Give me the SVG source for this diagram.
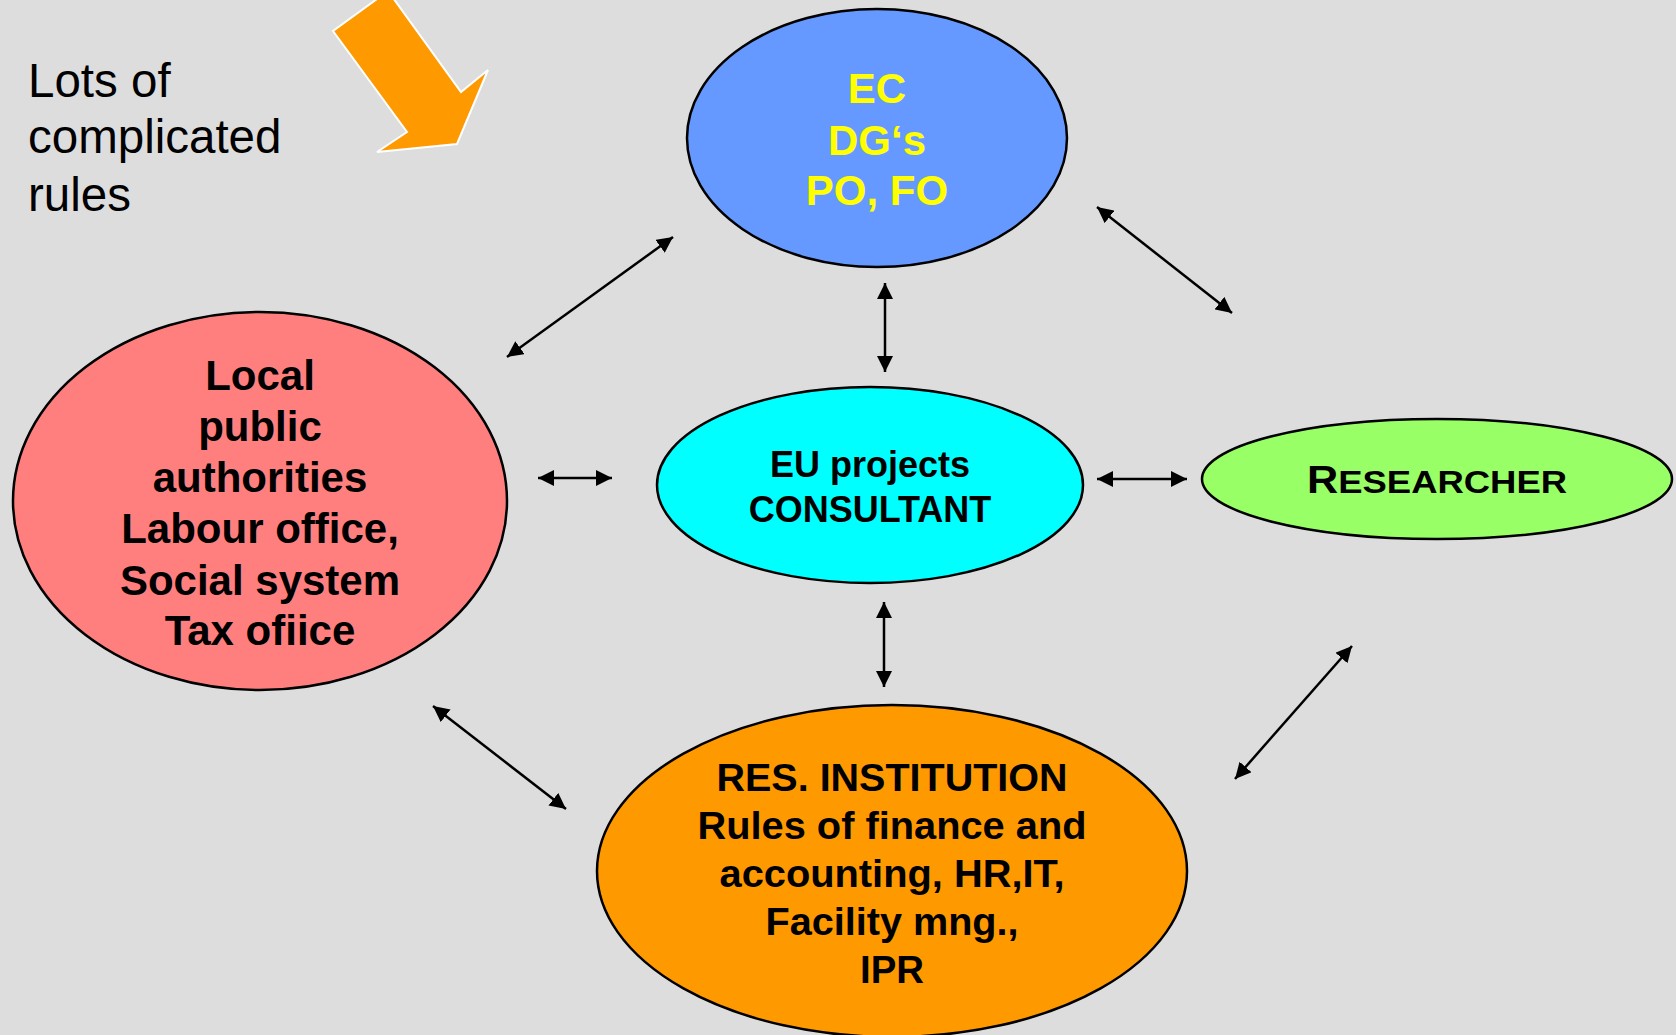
<svg xmlns="http://www.w3.org/2000/svg" width="1676" height="1035" viewBox="0 0 1676 1035">
  <style>
    .node { stroke: #000; stroke-width: 2.5; }
    .lbl { font-family: "Liberation Sans", Arial, sans-serif; font-weight: bold; text-anchor: middle; }
    .conn line { stroke: #000; stroke-width: 2.5; marker-start: url(#ah); marker-end: url(#ah); }
  </style>
  <defs>
    <marker id="ah" markerUnits="userSpaceOnUse" markerWidth="16" markerHeight="16" refX="16" refY="8" orient="auto-start-reverse">
      <path d="M0,0 L16,8 L0,16 Z" fill="#000"/>
    </marker>
  </defs>
  <rect x="0" y="0" width="1676" height="1035" fill="#DDDDDD"/>

  <g id="note">
    <text x="28" y="97" font-family="Liberation Sans, Arial, sans-serif" font-size="47.5" fill="#000">Lots of</text>
    <text x="28" y="153" font-family="Liberation Sans, Arial, sans-serif" font-size="47.5" fill="#000">complicated</text>
    <text x="28" y="211" font-family="Liberation Sans, Arial, sans-serif" font-size="47.5" fill="#000">rules</text>
  </g>

  <g id="big-arrow">
    <polygon points="388,-9 461,92 488,70 457,144 377,152 407,132 333,31" fill="#FF9900" stroke="#FFFFFF" stroke-width="2"/>
  </g>

  <g id="connectors" class="conn">
    <line x1="507" y1="357" x2="673" y2="237"/>
    <line x1="1097" y1="207" x2="1232" y2="313"/>
    <line x1="885" y1="283" x2="885" y2="372"/>
    <line x1="538" y1="478" x2="612" y2="478"/>
    <line x1="1097" y1="479" x2="1187" y2="479"/>
    <line x1="884" y1="602" x2="884" y2="687"/>
    <line x1="433" y1="706" x2="566" y2="809"/>
    <line x1="1352" y1="646" x2="1235" y2="779"/>
  </g>

  <g id="ec">
    <ellipse class="node" cx="877" cy="138" rx="190" ry="129" fill="#6699FF"/>
    <text class="lbl" x="877" y="103" font-size="42" fill="#FFFF00">EC</text>
    <text class="lbl" x="877" y="155" font-size="42" fill="#FFFF00">DG‘s</text>
    <text class="lbl" x="877" y="205" font-size="42" fill="#FFFF00">PO, FO</text>
  </g>

  <g id="local">
    <ellipse class="node" cx="260" cy="501" rx="247" ry="189" fill="#FF7F7F"/>
    <text class="lbl" x="260" y="390" font-size="42" fill="#000">Local</text>
    <text class="lbl" x="260" y="441" font-size="42" fill="#000">public</text>
    <text class="lbl" x="260" y="492" font-size="42" fill="#000">authorities</text>
    <text class="lbl" x="260" y="543" font-size="42" fill="#000">Labour office,</text>
    <text class="lbl" x="260" y="595" font-size="42" fill="#000">Social system</text>
    <text class="lbl" x="260" y="645" font-size="42" fill="#000">Tax ofiice</text>
  </g>

  <g id="consultant">
    <ellipse class="node" cx="870" cy="485" rx="213" ry="98" fill="#00FFFF"/>
    <text class="lbl" x="870" y="477" font-size="36" fill="#000">EU projects</text>
    <text class="lbl" x="870" y="522" font-size="36" fill="#000">CONSULTANT</text>
  </g>

  <g id="researcher">
    <ellipse class="node" cx="1437" cy="479" rx="235" ry="60" fill="#99FF66"/>
    <text class="lbl" x="1437" y="493" fill="#000" textLength="260" lengthAdjust="spacingAndGlyphs"><tspan font-size="38">R</tspan><tspan font-size="32">ESEARCHER</tspan></text>
  </g>

  <g id="institution">
    <ellipse class="node" cx="892" cy="871" rx="295" ry="166" fill="#FF9900"/>
    <text class="lbl" x="892" y="791" font-size="38" fill="#000" textLength="351" lengthAdjust="spacingAndGlyphs">RES. INSTITUTION</text>
    <text class="lbl" x="892" y="839" font-size="38" fill="#000" textLength="389" lengthAdjust="spacingAndGlyphs">Rules of finance and</text>
    <text class="lbl" x="892" y="887" font-size="38" fill="#000" textLength="345" lengthAdjust="spacingAndGlyphs">accounting, HR,IT,</text>
    <text class="lbl" x="892" y="935" font-size="38" fill="#000" textLength="253" lengthAdjust="spacingAndGlyphs">Facility mng.,</text>
    <text class="lbl" x="892" y="983" font-size="38" fill="#000" textLength="64" lengthAdjust="spacingAndGlyphs">IPR</text>
  </g>
</svg>
